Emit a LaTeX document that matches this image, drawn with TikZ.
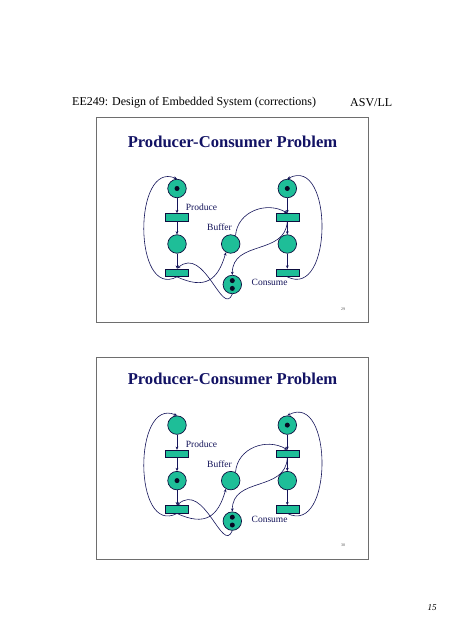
\documentclass[tikz,border=0pt]{standalone}
\usepackage{fontspec}
\setmainfont{Liberation Serif}
\usetikzlibrary{arrows.meta}
\definecolor{teal1}{RGB}{30,190,152}
\definecolor{navy1}{RGB}{20,20,90}
\definecolor{titlec}{RGB}{18,18,100}
\definecolor{frame1}{RGB}{110,110,110}
\tikzset{
  place/.style={circle,draw=navy1!70!black,line width=0.7pt,fill=teal1,minimum size=18.5bp,inner sep=0pt},
  trans/.style={rectangle,draw=navy1!70!black,line width=0.6pt,fill=teal1,minimum width=23bp,minimum height=7.7bp,inner sep=0pt},
  arc/.style={draw=navy1,line width=0.6pt,-{Stealth[length=3.2bp,width=2.8bp]}},
  tok/.style={circle,fill=navy1!40!black,minimum size=5bp,inner sep=0pt},
  lab/.style={font=\fontsize{9.5bp}{10bp}\selectfont,text=navy1,inner sep=0pt,anchor=west},
  slidetitle/.style={font=\fontsize{16.6bp}{18bp}\selectfont\bfseries,text=titlec,inner sep=0pt},
  pnum/.style={font=\fontsize{4bp}{5bp}\selectfont,text=black!70,inner sep=0pt},
  frm/.style={draw=frame1,line width=0.8pt}
}
\newcommand{\petrislide}[4]{%
 % #1 prefix, #2 yshift, #3 token in left top (1/0), #4 token in left middle (1/0)
 \begin{scope}[yshift=#2]
  \node[slidetitle] (#1title) at (232.5,142) {Producer-Consumer Problem};
  \node[place] (#1p1) at (177,188.5) {};
  \node[trans] (#1t1) at (177,217.3) {};
  \node[place] (#1p2) at (177,244) {};
  \node[trans] (#1t2) at (177,272.7) {};
  \node[place] (#1pb) at (230.7,244) {};
  \node[place] (#1pc) at (232.3,284.5) {};
  \node[place] (#1p3) at (287.3,188.5) {};
  \node[trans] (#1t3) at (287.3,217.3) {};
  \node[place] (#1p4) at (287.3,244) {};
  \node[trans] (#1t4) at (287.3,272.7) {};
  \ifnum#3=1 \node[tok] (#1k1) at (#1p1) {};\fi
  \ifnum#4=1 \node[tok] (#1k2) at (#1p2) {};\fi
  \node[tok] (#1k3) at (#1p3) {};
  \node[tok] (#1kc1) at (232.3,280.6) {};
  \node[tok] (#1kc2) at (232.3,288.4) {};
  \node[lab] (#1lprod) at (185.7,207.7) {Produce};
  \node[lab] (#1lbuf) at (207,227.7) {Buffer};
  \node[lab] (#1lcons) at (251.5,282.7) {Consume};
  \draw[arc] (#1p1) -- (#1t1);
  \draw[arc] (#1t1) -- (#1p2);
  \draw[arc] (#1p2) -- (#1t2);
  \draw[arc] (#1p3) -- (#1t3);
  \draw[arc] (#1t3) -- (#1p4);
  \draw[arc] (#1p4) -- (#1t4);
  \draw[arc] (#1t2.south) .. controls +(-44,23) and +(-44,-19) .. (#1p1.north);
  \draw[arc] (#1t4.south) .. controls +(46,23) and +(46,-24) .. (#1p3.north);
  \draw[arc] (#1t2.south) .. controls +(28,13) and +(-8,28) .. (#1pb.240);
  \draw[arc] (#1pc.south) .. controls +(-10,24) and +(27.5,-23.7) .. (#1t2.north);
  \draw[arc] (#1pb.60) .. controls +(2,-25) and +(-20,-12) .. (#1t3.north);
  \draw[arc] (#1t3.south) .. controls +(-2,34) and +(0,-35) .. (#1pc.north);
  \node[pnum] (#1num) at (343,309) {#1};
 \end{scope}}
\begin{document}
\begin{tikzpicture}[x=1bp,y=-1bp]
 \useasboundingbox[fill=white] (0,0) rectangle (452,640);
 \node[font=\fontsize{12bp}{14bp}\selectfont,inner sep=0pt,anchor=west] (hdr) at (72,103) {EE249: Design of Embedded System (corrections)};
 \node[font=\fontsize{12bp}{14bp}\selectfont,inner sep=0pt,anchor=west] (hdr2) at (350,103) {ASV/LL};
 \draw[frm] (96.5,117) rectangle (368,322);
 \draw[frm] (96.5,357) rectangle (368,559);
 \petrislide{29}{0}{1}{0}
 \petrislide{30}{-237.5}{0}{1}
 \node[font=\fontsize{9bp}{10bp}\selectfont\itshape,inner sep=0pt] (pg) at (432,608) {15};
\end{tikzpicture}
\end{document}
